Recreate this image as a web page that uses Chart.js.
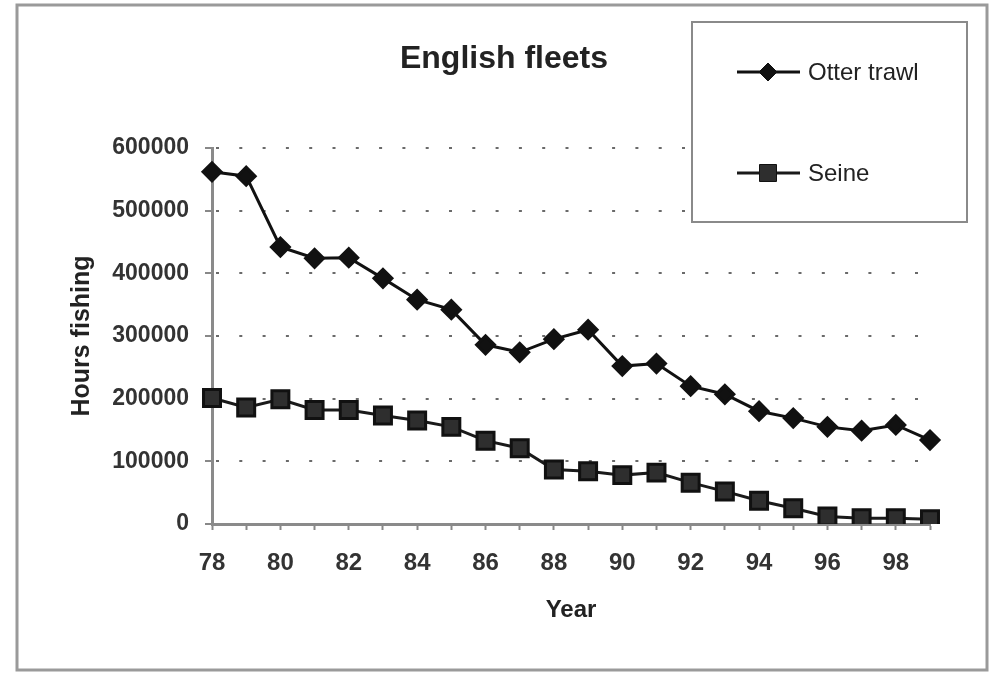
<!DOCTYPE html>
<html>
<head>
<meta charset="utf-8">
<script src="https://cdn.jsdelivr.net/npm/chart.js@4/dist/chart.umd.min.js"></script>
<style>
  body { margin: 0; background: #fff; }
  #wrap { width: 998px; height: 675px; }
</style>
</head>
<body>
<div id="wrap"><canvas id="grafico" width="998" height="675"></canvas></div>
<script>
// datos
const anios = ["78","79","80","81","82","83","84","85","86","87","88","89","90","91","92","93","94","95","96","97","98","99"];
const otterTrawl = [562000, 555000, 442000, 424000, 425000, 392000, 358000, 342000, 286000, 274000, 295000, 310000,
                    252000, 256000, 220000, 207000, 180000, 169000, 155000, 149000, 158000, 134000];
const seine = [201000, 186000, 199000, 182000, 182000, 173000, 165000, 155000, 133000, 121000, 87000, 84000,
               78000, 82000, 66000, 52000, 37000, 25000, 12000, 9000, 9000, 7500];
const nombresSeries = ["Otter trawl", "Seine"];
const tituloGrafico = "English fleets";
const tituloX = "Year";
const tituloY = "Hours fishing";

const fuente = "'Liberation Sans', Arial, sans-serif";

// marco, titulo y leyenda dibujados a mano
const extras = {
  id: "extras",
  afterDraw(chart) {
    const ctx = chart.ctx;
    ctx.save();
    // marco exterior
    ctx.strokeStyle = "#9a9a9a";
    ctx.lineWidth = 3;
    ctx.strokeRect(17, 5, 970, 665);

    // titulo
    ctx.fillStyle = "#222";
    ctx.font = "bold 32px " + fuente;
    ctx.textAlign = "center";
    ctx.textBaseline = "alphabetic";
    ctx.fillText(tituloGrafico, 504, 68);

    // leyenda
    ctx.fillStyle = "#fff";
    ctx.fillRect(692, 22, 275, 200);
    ctx.strokeStyle = "#8a8a8a";
    ctx.lineWidth = 2;
    ctx.strokeRect(692, 22, 275, 200);

    const filas = [72, 173];
    chart.data.datasets.forEach((ds, i) => {
      const y = filas[i];
      ctx.strokeStyle = ds.borderColor;
      ctx.lineWidth = ds.borderWidth;
      ctx.beginPath();
      ctx.moveTo(737, y);
      ctx.lineTo(800, y);
      ctx.stroke();
      ctx.fillStyle = ds.pointBackgroundColor;
      ctx.strokeStyle = ds.pointBorderColor;
      ctx.lineWidth = 1;
      Chart.helpers.drawPoint(ctx, {pointStyle: ds.pointStyle, radius: ds.pointRadius, rotation: 0, borderWidth: 1}, 768, y);
      ctx.fillStyle = "#222";
      ctx.font = "24px " + fuente;
      ctx.textAlign = "left";
      ctx.textBaseline = "middle";
      ctx.fillText(ds.label, 808, y + 1);
    });
    ctx.restore();
  }
};

const config = {
  type: "line",
  data: {
    labels: anios,
    datasets: [
      {
        label: nombresSeries[0],
        data: otterTrawl,
        borderColor: "#111",
        borderWidth: 3,
        pointStyle: "rectRot",
        pointRadius: 9,
        pointBackgroundColor: "#111",
        pointBorderColor: "#111",
        tension: 0
      },
      {
        label: nombresSeries[1],
        data: seine,
        borderColor: "#1a1a1a",
        borderWidth: 3,
        pointStyle: "rect",
        pointRadius: 12,
        pointBackgroundColor: "#2e2e2e",
        pointBorderColor: "#111",
        tension: 0
      }
    ]
  },
  options: {
    responsive: false,
    animation: false,
    layout: { padding: { left: 20, right: 68, top: 148, bottom: 0 } },
    plugins: {
      legend: { display: false },
      tooltip: { enabled: false },
      title: { display: false }
    },
    scales: {
      x: {
        type: "category",
        offset: false,
        afterFit: (s) => { s.height = 151; },
        grid: { drawOnChartArea: false, drawTicks: true, tickLength: 6, tickColor: "#888", tickWidth: 2 },
        border: { color: "#8a8a8a", width: 3 },
        ticks: {
          autoSkip: false,
          maxRotation: 0,
          padding: 19,
          color: "#333",
          font: { family: fuente, size: 24, weight: "bold" },
          callback: function (val, i) { return i % 2 === 0 ? this.getLabelForValue(val) : ""; }
        },
        title: {
          display: true,
          text: tituloX,
          color: "#222",
          font: { family: fuente, size: 24, weight: "bold" },
          padding: { top: 0, bottom: 50 }
        }
      },
      y: {
        min: 0,
        max: 600000,
        afterFit: (s) => { s.width = 192; },
        grid: {
          color: (c) => c.tick && c.tick.value === 0 ? "rgba(0,0,0,0)" : "#6a6a6a",
          lineWidth: 2,
          tickColor: "#888",
          tickWidth: 2,
          tickLength: 7
        },
        border: { color: "#8a8a8a", width: 3, dash: [3, 20.3], dashOffset: -2 },
        ticks: {
          stepSize: 100000,
          padding: 16,
          color: "#333",
          font: { family: fuente, size: 23, weight: "bold" },
          callback: (v) => String(v)
        },
        title: {
          display: true,
          text: tituloY,
          color: "#222",
          font: { family: fuente, size: 25, weight: "bold" },
          padding: { top: 47, bottom: 0 }
        }
      }
    }
  },
  plugins: [extras]
};

const grafico = new Chart(document.getElementById("grafico").getContext("2d"), config);
</script>
</body>
</html>
